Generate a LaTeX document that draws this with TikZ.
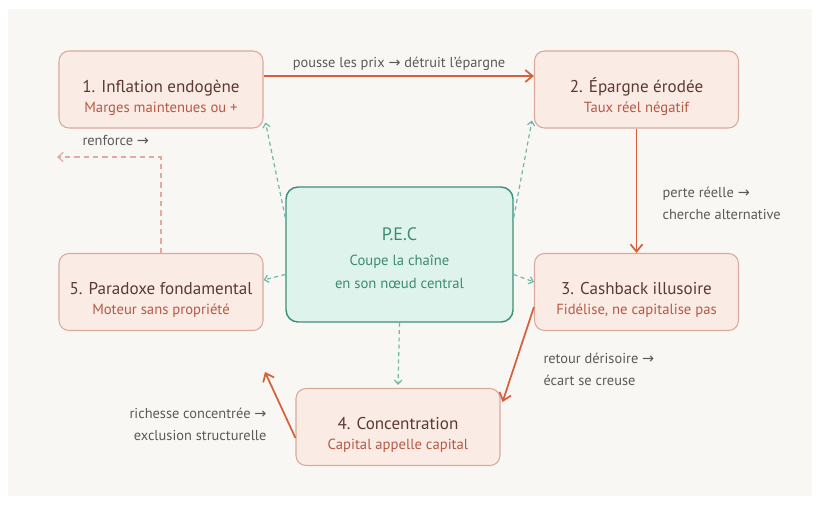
\documentclass[tikz,border=0pt]{standalone}
\usepackage{fontspec}
\setmainfont{PT Sans}
\newfontfamily\symbfont{DejaVu Sans}
\usetikzlibrary{arrows.meta,calc}
\newcommand{\sarrow}{{\symbfont\char"2192}}
\definecolor{paper}{HTML}{F9F7F4}
\definecolor{boxfill}{HTML}{FBEBE5}
\definecolor{boxline}{HTML}{D9A99C}
\definecolor{titletext}{HTML}{5A3A33}
\definecolor{subtext}{HTML}{B45A44}
\definecolor{labeltext}{HTML}{5A5A5A}
\definecolor{flow}{HTML}{D5603B}
\definecolor{weakflow}{HTML}{E5AA9A}
\definecolor{pecfill}{HTML}{DFF3ED}
\definecolor{pecline}{HTML}{3F8F78}
\definecolor{pectext}{HTML}{3D8A72}
\definecolor{pecflow}{HTML}{6DB9A3}
\tikzset{every picture/.style={line width=0.75pt}}
\tikzset{
  stage/.style={draw=boxline, fill=boxfill, rounded corners=7.5pt, line width=0.8pt,
    minimum width=153pt, minimum height=57.75pt, align=center, inner sep=0},
  pecbox/.style={draw=pecline, fill=pecfill, rounded corners=9pt, line width=1.1pt,
    minimum width=170.25pt, minimum height=101.25pt, align=center, inner sep=0,
    text=pectext, font=\fontsize{11}{17.5}\selectfont},
  flowarrow/.style={draw=flow, line width=1.3pt, -{Straight Barb[length=5.5pt,width=9pt]}},
  pecarrow/.style={draw=pecflow, line width=0.9pt, dash pattern=on 3pt off 2.5pt,
    -{Straight Barb[length=3pt,width=5.5pt]}},
  loosearrow/.style={draw=weakflow, line width=0.9pt, dash pattern=on 4pt off 3pt,
    -{Straight Barb[length=4pt,width=7pt]}},
  flowlabel/.style={text=labeltext, font=\fontsize{10.8}{16}\selectfont, inner sep=0, align=left},
}
\newcommand{\stagetext}[2]{\rule{0pt}{21.5pt}\textcolor{titletext}{\fontsize{12.8}{19}\selectfont #1}\\[3pt]\textcolor{subtext}{\fontsize{11}{14}\selectfont #2}}

\begin{document}
\begin{tikzpicture}[x=0.75pt,y=0.75pt,yscale=-1,xscale=1]
\useasboundingbox (0,0) rectangle (818,504);
\fill[white] (0,0) rectangle (818,504);
\fill[paper] (8,9) rectangle (812,496);

% stages
\node[stage] (infl) at (161,89.5) {\stagetext{1. Inflation endogène}{Marges maintenues ou +}};
\node[stage] (epar) at (636.5,89.5) {\stagetext{2. Épargne érodée}{Taux réel négatif}};
\node[stage] (cash) at (636.5,292) {\stagetext{3. Cashback illusoire}{Fidélise, ne capitalise pas}};
\node[stage] (conc) at (398,427) {\stagetext{4. Concentration}{Capital appelle capital}};
\node[stage] (para) at (161,292) {\stagetext{5. Paradoxe fondamental}{Moteur sans propriété}};

% central node
\node[pecbox] (pec) at (399.5,254.5) {\rule{0pt}{15.6pt}{\fontsize{13.5}{19}\selectfont P.E.C}\\[1pt]Coupe la chaîne\\en son nœud central};

% main cycle
\draw[flowarrow] ($(infl.east)+(0,-13.5)$) -- ($(epar.west)+(0,-13.5)$);
\draw[flowarrow] (epar.south) -- (cash.north);
\draw[flowarrow] ($(cash.west)+(0,15)$) -- ($(conc.east)+(2,-25)$);
\coordinate (wealth) at (265,372);
\draw[flowarrow] ($(conc.west)+(0,11)$) -- (wealth);

% loop back
\coordinate (bend) at (para.north |- 0,157);
\coordinate (loopend) at (57,157);
\draw[loosearrow] (para.north) -- (bend) -- (loopend);

% P.E.C cuts
\draw[pecarrow] ($(pec.west)+(0,-37)$) -- ($(infl.south east)+(2,-6)$);
\draw[pecarrow] ($(pec.east)+(0,-37)$) -- ($(epar.south west)+(-2,-8)$);
\draw[pecarrow] ($(pec.west)+(0,20)$) -- ($(para.east)+(0,-12)$);
\draw[pecarrow] ($(pec.east)+(0,20)$) -- ($(cash.west)+(0,-10)$);
\draw[pecarrow] (pec.south) -- ($(conc.north)+(0,-3)$);

% labels
\node[flowlabel, anchor=base] (l12) at (399,67) {pousse les prix \sarrow{} détruit l’épargne};
\node[flowlabel, anchor=base west] (l51) at (82,145) {renforce \sarrow};
\node[flowlabel, anchor=north west] (l23) at (662,187) {perte réelle \sarrow\\cherche alternative};
\node[flowlabel, anchor=north west] (l34) at (543,353) {retour dérisoire \sarrow\\écart se creuse};
\node[flowlabel, anchor=north east, align=right] (l45) at (267,408) {richesse concentrée \sarrow\\exclusion structurelle};
\end{tikzpicture}
\end{document}
